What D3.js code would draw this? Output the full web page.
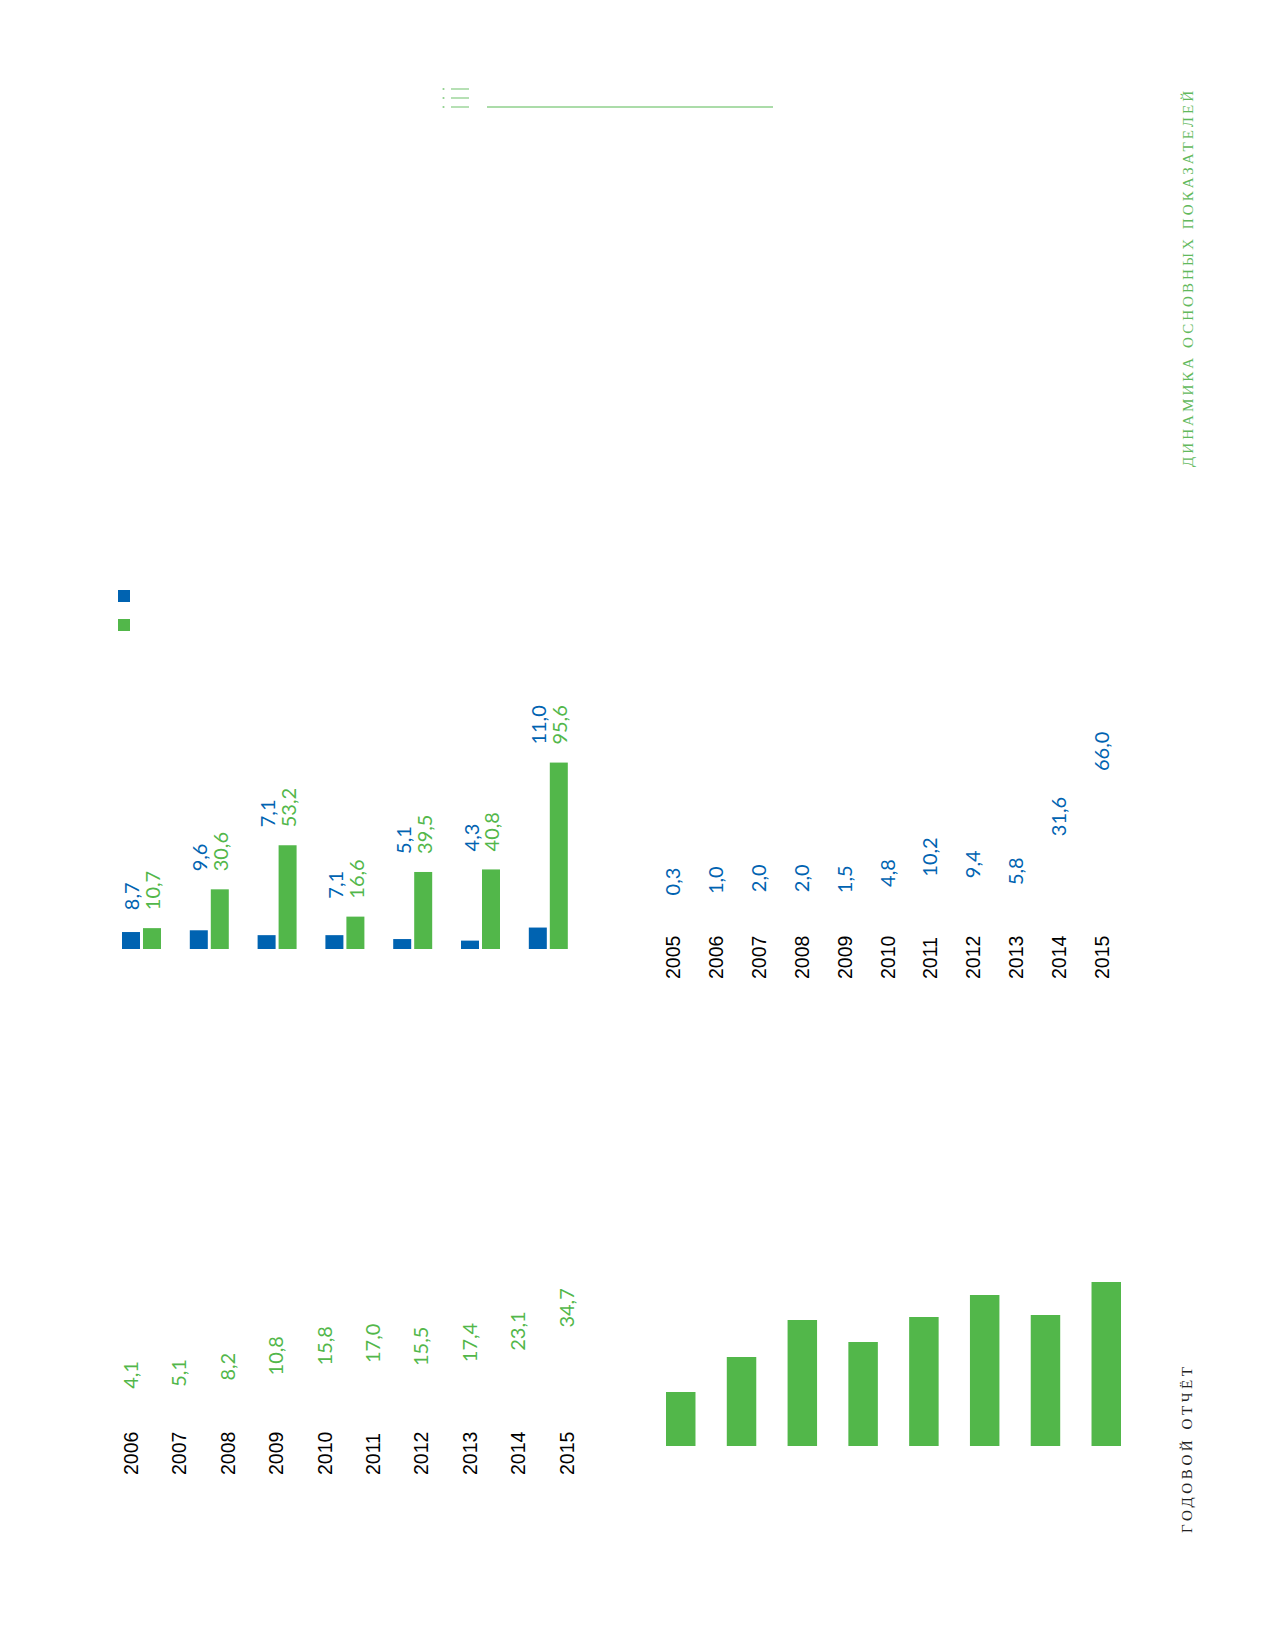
<!DOCTYPE html>
<html>
<head>
<meta charset="utf-8">
<script src="https://cdn.jsdelivr.net/npm/d3@7"></script>
<style>
    body { margin: 0; background: #fff; }
    svg { display: block; }
</style>
</head>
<body>
<svg id="page" width="1268" height="1652"></svg>
<script>
// chart 1: paired bars
const pairYears = ["2009", "2010", "2011", "2012", "2013", "2014", "2015"];
const pairBlue = [8.7, 9.6, 7.1, 7.1, 5.1, 4.3, 11.0];
const pairGreen = [10.7, 30.6, 53.2, 16.6, 39.5, 40.8, 95.6];

// chart 2: blue values by year
const rightYears = ["2005", "2006", "2007", "2008", "2009", "2010", "2011", "2012", "2013", "2014", "2015"];
const rightValues = [0.3, 1.0, 2.0, 2.0, 1.5, 4.8, 10.2, 9.4, 5.8, 31.6, 66.0];

// chart 3: green values by year
const leftYears = ["2006", "2007", "2008", "2009", "2010", "2011", "2012", "2013", "2014", "2015"];
const leftValues = [4.1, 5.1, 8.2, 10.8, 15.8, 17.0, 15.5, 17.4, 23.1, 34.7];

// chart 4: green bars, no labels
const barYears = ["2008", "2009", "2010", "2011", "2012", "2013", "2014", "2015"];
const barValues = [5.4, 8.9, 12.6, 10.4, 12.9, 15.1, 13.1, 16.4];

const BLUE = "#0063b1";
const GREEN = "#52b74a";
const LIGHT_GREEN = "#8fd08c";
const LABEL_FONT = "Lato, 'Noto Sans', sans-serif";
const YEAR_FONT = "'Liberation Sans', Arial, sans-serif";

const ru = d3.formatLocale({ decimal: ",", thousands: " ", grouping: [3], currency: ["", ""] });
const fmt = ru.format(".1f");

const svg = d3.select("#page");

// header: list icon and rule
const head = svg.append("g").attr("stroke", LIGHT_GREEN).attr("fill", LIGHT_GREEN);
[89, 98, 107].forEach(y => {
    head.append("circle").attr("cx", 443.5).attr("cy", y).attr("r", 1.1).attr("stroke", "none");
    head.append("line").attr("x1", 451).attr("x2", 469).attr("y1", y).attr("y2", y).attr("stroke-width", 1.3);
});
head.append("line")
    .attr("x1", 487).attr("x2", 773)
    .attr("y1", 107).attr("y2", 107)
    .attr("stroke-width", 1.5);

// side captions
function sideText(text, x, y, len, color) {
    svg.append("text")
        .attr("transform", `translate(${x},${y}) rotate(-90)`)
        .attr("font-family", "'Liberation Serif', 'DejaVu Serif', serif")
        .attr("font-size", 15)
        .attr("fill", color)
        .attr("textLength", len)
        .attr("lengthAdjust", "spacing")
        .text(text);
}
sideText("ДИНАМИКА ОСНОВНЫХ ПОКАЗАТЕЛЕЙ", 1193, 467, 376, "#62b95c");
sideText("ГОДОВОЙ ОТЧЁТ", 1192, 1533, 166, "#222");

// chart 1
const x0 = d3.scaleBand().domain(pairYears).range([122, 567.8]).paddingInner(0.425).paddingOuter(0);
const x1 = d3.scaleBand().domain(["blue", "green"]).range([0, x0.bandwidth()]).paddingInner(3 / 21).paddingOuter(0);
const y1 = d3.scaleLinear().domain([0, 100]).range([949, 754]);

const pairs = pairYears.map((year, i) => ({ year, blue: pairBlue[i], green: pairGreen[i] }));

const legend = svg.append("g");
legend.append("rect").attr("x", 118).attr("y", 590).attr("width", 12).attr("height", 12).attr("fill", BLUE);
legend.append("rect").attr("x", 118).attr("y", 619).attr("width", 12).attr("height", 12).attr("fill", GREEN);

const group = svg.append("g").selectAll("g")
    .data(pairs)
    .enter().append("g")
    .attr("transform", d => `translate(${x0(d.year)},0)`);

group.selectAll("rect")
    .data(d => [{ key: "blue", v: d.blue, color: BLUE }, { key: "green", v: d.green, color: GREEN }])
    .enter().append("rect")
    .attr("x", d => x1(d.key))
    .attr("y", d => y1(d.v))
    .attr("width", x1.bandwidth())
    .attr("height", d => y1(0) - y1(d.v))
    .attr("fill", d => d.color);

group.selectAll("text")
    .data(d => [
        { key: "blue", v: d.blue, top: d.green, color: BLUE },
        { key: "green", v: d.green, top: d.green, color: GREEN }
    ])
    .enter().append("text")
    .attr("transform", d => `translate(${x1(d.key) + x1.bandwidth() - 0.5},${y1(d.top) - 18}) rotate(-90)`)
    .attr("font-family", LABEL_FONT)
    .attr("font-size", 20)
    .attr("fill", d => d.color)
    .text(d => fmt(d.v));

// chart 2
const xR = d3.scalePoint().domain(rightYears).range([680, 1109]);
const yR = d3.scaleLinear().domain([0, 66]).range([905, 780]);

const right = svg.append("g");
right.selectAll(".year")
    .data(rightYears)
    .enter().append("text")
    .attr("class", "year")
    .attr("transform", d => `translate(${xR(d)},979) rotate(-90)`)
    .attr("font-family", YEAR_FONT)
    .attr("font-size", 19.5)
    .attr("fill", "#000")
    .text(d => d);

right.selectAll(".val")
    .data(rightValues)
    .enter().append("text")
    .attr("class", "val")
    .attr("transform", (d, i) => `translate(${xR(rightYears[i])},${yR(d) - 9}) rotate(-90)`)
    .attr("font-family", LABEL_FONT)
    .attr("font-size", 20)
    .attr("fill", BLUE)
    .text(d => fmt(d));

// chart 3
const xL = d3.scalePoint().domain(leftYears).range([138, 573.6]);
const yL = d3.scaleLinear().domain([0, 35]).range([1405, 1335]);

const left = svg.append("g");
left.selectAll(".year")
    .data(leftYears)
    .enter().append("text")
    .attr("class", "year")
    .attr("transform", d => `translate(${xL(d)},1475) rotate(-90)`)
    .attr("font-family", YEAR_FONT)
    .attr("font-size", 19.5)
    .attr("fill", "#000")
    .text(d => d);

left.selectAll(".val")
    .data(leftValues)
    .enter().append("text")
    .attr("class", "val")
    .attr("transform", (d, i) => `translate(${xL(leftYears[i])},${yL(d) - 8}) rotate(-90)`)
    .attr("font-family", LABEL_FONT)
    .attr("font-size", 20)
    .attr("fill", GREEN)
    .text(d => fmt(d));

// chart 4
const xB = d3.scaleBand().domain(barYears).range([666, 1121]).paddingInner(0.515).paddingOuter(0);
const yB = d3.scaleLinear().domain([0, 16.4]).range([1446, 1282]);

svg.append("g").selectAll("rect")
    .data(barValues)
    .enter().append("rect")
    .attr("x", (d, i) => xB(barYears[i]))
    .attr("y", d => yB(d))
    .attr("width", xB.bandwidth())
    .attr("height", d => yB(0) - yB(d))
    .attr("fill", GREEN);
</script>
</body>
</html>
